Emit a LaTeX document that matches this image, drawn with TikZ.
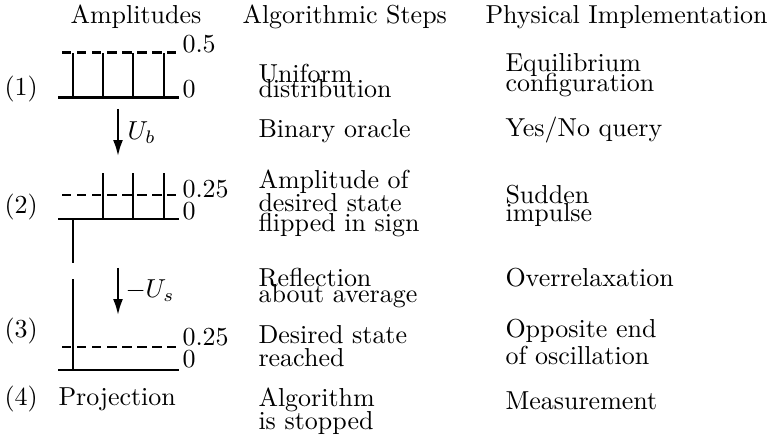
\documentclass[tikz,border=0pt]{standalone}
\usepackage{amsmath,amssymb}
\usetikzlibrary{arrows.meta}

\tikzset{
    lbl/.style={anchor=base west, inner sep=0pt, align=left},
    barre/.style={line width=1.15pt},
    moy/.style={line width=1.15pt, dash pattern=on 3.6pt off 2.2pt},
    fleche/.style={line width=1.15pt, -{Latex[length=6.5pt,width=3.8pt]}}
}

\begin{document}
\begin{tikzpicture}[x=0.385pt, y=-0.385pt]

            \useasboundingbox (0,0) rectangle (774,437);

            % Titres
            \node[lbl] (tAmp) at (70,24) {Amplitudes};
            \node[lbl] (tAlg) at (242,24) {Algorithmic Steps};
            \node[lbl] (tPhy) at (485,24) {Physical Implementation};

            % Etapes
            \node[lbl] (e1) at (4,96) {(1)};
            \node[lbl] (e2) at (4,214) {(2)};
            \node[lbl] (e3) at (4,338) {(3)};
            \node[lbl] (e4) at (4,406) {(4)};
            \node[lbl] (proj) at (58,406) {Projection};

            % Niveau (1)
            \draw[barre] (58,98) -- (179,98);
            \draw[moy] (62,53) -- (176,53);
            \draw[barre] (73,98) -- (73,53);
            \draw[barre] (103,98) -- (103,53);
            \draw[barre] (133,98) -- (133,53);
            \draw[barre] (164,98) -- (164,53);
            \node[lbl] (a1h) at (182,53) {0.5};
            \node[lbl] (a1b) at (182,98) {0};

            % Niveau (2)
            \draw[barre] (58,219) -- (179,219);
            \draw[moy] (62,195) -- (176,195);
            \draw[barre] (73,219) -- (73,263);
            \draw[barre] (103,219) -- (103,173);
            \draw[barre] (133,219) -- (133,173);
            \draw[barre] (164,219) -- (164,173);
            \node[lbl] (a2h) at (182,198) {0.25};
            \node[lbl] (a2b) at (182,220) {0};

            % Niveau (3)
            \draw[barre] (58,370) -- (179,370);
            \draw[moy] (62,347) -- (176,347);
            \draw[barre] (73,370) -- (73,279);
            \node[lbl] (a3h) at (182,346) {0.25};
            \node[lbl] (a3b) at (182,368) {0};

            % Fleches
            \coordinate (ub1) at (118,109);
            \coordinate (ub2) at (118,157);
            \coordinate (us1) at (118,268);
            \coordinate (us2) at (118,316);
            \draw[fleche] (ub1) -- (ub2);
            \draw[fleche] (us1) -- (us2);
            \node[lbl] (Ub) at (127,140) {$U_b$};
            \node[lbl] (Us) at (125,298) {$-U_s$};

            % Algorithme
            \node[lbl] (g1) at (258,98) {Uniform\\[-6.2pt]distribution};
            \node[lbl] (g2) at (258,138) {Binary oracle};
            \node[lbl] (g3) at (258,232) {Amplitude of\\[-2.8pt]desired state\\[-4.3pt]flipped in sign};
            \node[lbl] (g4) at (258,303) {Reflection\\[-5.5pt]about average};
            \node[lbl] (g5) at (258,367) {Desired state\\[-2.8pt]reached};
            \node[lbl] (g6) at (258,430) {Algorithm\\[-3.1pt]is stopped};

            % Implementation physique
            \node[lbl] (p1) at (505,92) {Equilibrium\\[-4.3pt]configuration};
            \node[lbl] (p2) at (505,137) {Yes/No query};
            \node[lbl] (p3) at (505,222) {Sudden\\[-4.7pt]impulse};
            \node[lbl] (p4) at (505,287) {Overrelaxation};
            \node[lbl] (p5) at (505,365) {Opposite end\\[-1.6pt]of oscillation};
            \node[lbl] (p6) at (505,410) {Measurement};

\end{tikzpicture}
\end{document}
